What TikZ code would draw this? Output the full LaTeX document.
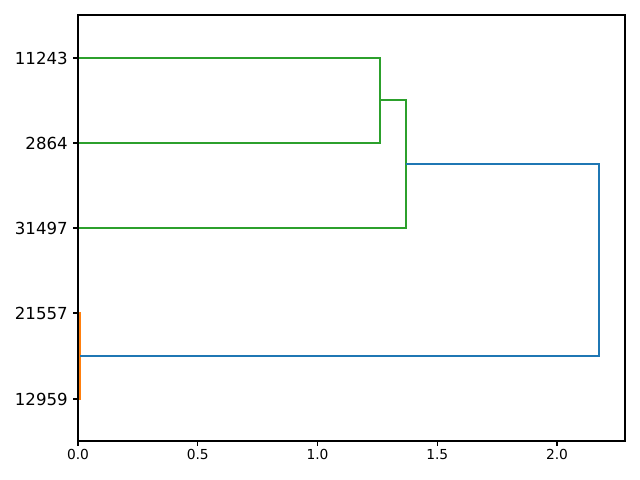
\documentclass[tikz,border=0pt]{standalone}
\usepackage{fontspec}
\setmainfont{DejaVu Sans}
\usetikzlibrary{positioning}
\definecolor{tabblue}{HTML}{1F77B4}
\definecolor{taborange}{HTML}{FF7F0E}
\definecolor{tabgreen}{HTML}{2CA02C}
\tikzset{
  link/.style={line width=1.48pt},
  spine/.style={line width=0.79pt,draw=black},
  ylab/.style={anchor=east,font=\fontsize{11.8}{14}\selectfont,inner sep=0pt},
  xlab/.style={anchor=north,font=\fontsize{9.8}{12}\selectfont,inner sep=0pt},
}
\begin{document}
\begin{tikzpicture}[x=0.025cm,y=-0.025cm]
  \useasboundingbox (0,0) rectangle (640,480);
  % leaves
  \coordinate (a11243) at (78,58);
  \coordinate (a2864)  at (78,143);
  \coordinate (a31497) at (78,228);
  \coordinate (a21557) at (78,313);
  \coordinate (a12959) at (78,399);
  % merges
  \coordinate (m0) at (80,356);
  \coordinate (m1) at (380,100);
  \coordinate (m2) at (406,164);
  \coordinate (m3) at (599,356);
  \draw[link,tabgreen]  (a11243) -| (m1) |- (a2864);
  \draw[link,tabgreen]  (m1) -| (m2) |- (a31497);
  \draw[link,taborange] (a21557) -| (m0) |- (a12959);
  \draw[link,tabblue]   (m2) -| (m3) |- (m0);
  % axes
  \draw[spine] (78,15) rectangle (625,441);
  \foreach \v [count=\i] in {0.0,0.5,1.0,1.5,2.0} {
    \pgfmathsetmacro\xx{78+239.5*\v}
    \draw[spine] (\xx,441) -- (\xx,446);
    \node[xlab] (xt\i) at (\xx,449) {\v};
  }
  \foreach \lab/\yy in {11243/58,2864/143,31497/228,21557/313,12959/399} {
    \draw[spine] (78,\yy) -- (73,\yy);
    \node[ylab] (yt\lab) at (68,\yy) {\lab};
  }
\end{tikzpicture}
\end{document}
